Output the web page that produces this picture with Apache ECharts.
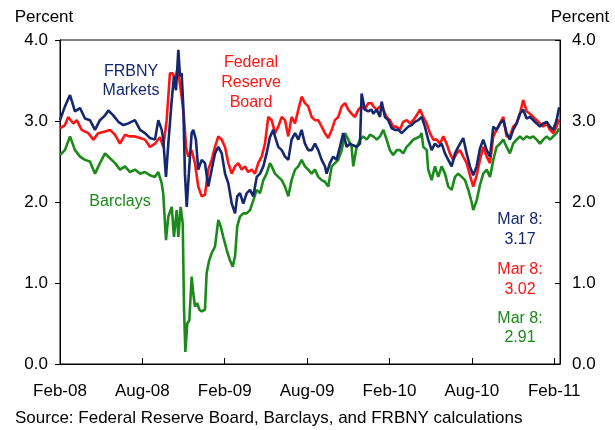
<!DOCTYPE html>
<html><head><meta charset="utf-8">
<script src="https://cdn.jsdelivr.net/npm/echarts@6/dist/echarts.min.js"></script>
<style>html,body{margin:0;padding:0;background:#fff}#c{width:615px;height:430px}</style>
</head><body><div id="c"></div>
<script>
// x values: months since Feb-2008
const tickLabels = ['Feb-08','Aug-08','Feb-09','Aug-09','Feb-10','Aug-10','Feb-11'];
const yTicks = [0, 1, 2, 3, 4];

const frbny = [[0,3.01],[0.36,3.18],[0.73,3.32],[1.09,3.12],[1.46,3.16],[1.82,3.03],[2.18,3.01],[2.55,2.89],[2.91,3.01],[3.28,3.07],[3.52,3.13],[3.88,3.07],[4.25,2.99],[4.61,2.95],[4.97,2.97],[5.46,3.01],[5.83,2.89],[6.19,2.85],[6.55,2.79],[6.92,2.77],[7.16,3.01],[7.41,2.89],[7.52,2.77],[7.72,2.31],[7.89,2.72],[8.14,3.26],[8.30,3.55],[8.45,3.38],[8.62,3.88],[8.74,3.55],[8.86,3.59],[8.98,3.18],[9.10,2.35],[9.23,1.94],[9.42,2.44],[9.59,2.85],[9.71,2.89],[9.90,2.77],[10.07,2.40],[10.32,2.52],[10.56,2.48],[10.80,2.19],[11.05,2.40],[11.29,2.60],[11.53,2.68],[11.78,2.60],[12.02,2.35],[12.26,2.23],[12.51,1.98],[12.75,1.86],[12.91,2.07],[13.11,2.11],[13.35,1.98],[13.60,2.11],[13.84,2.15],[14.08,2.07],[14.33,2.31],[14.57,2.35],[14.81,2.44],[15.05,2.60],[15.29,2.80],[15.53,2.89],[15.66,2.81],[15.90,2.68],[16.15,2.64],[16.39,2.56],[16.63,2.52],[16.87,2.77],[17.12,2.85],[17.36,2.77],[17.60,2.89],[17.84,2.72],[18.08,2.64],[18.33,2.64],[18.57,2.72],[18.81,2.64],[19.06,2.52],[19.30,2.44],[19.42,2.35],[19.66,2.48],[19.90,2.56],[20.15,2.52],[20.39,2.68],[20.63,2.85],[20.88,2.68],[21.12,2.72],[21.36,2.70],[21.61,2.68],[21.85,2.72],[21.97,3.34],[22.21,3.14],[22.45,3.12],[22.70,3.14],[22.82,3.09],[23.07,3.14],[23.31,3.05],[23.43,3.24],[23.67,3.05],[23.91,3.01],[24.16,2.91],[24.40,2.89],[24.64,2.89],[24.89,2.85],[25.13,2.89],[25.37,2.93],[25.61,2.95],[25.85,2.99],[26.10,3.01],[26.34,3.05],[26.58,2.93],[26.82,2.77],[27.07,2.64],[27.31,2.72],[27.55,2.68],[27.80,2.72],[28.04,2.60],[28.28,2.52],[28.53,2.44],[28.77,2.60],[29.01,2.68],[29.37,2.79],[29.62,2.60],[29.86,2.44],[30.10,2.33],[30.35,2.44],[30.59,2.66],[30.83,2.77],[31.08,2.64],[31.32,2.56],[31.56,2.93],[31.80,2.89],[32.05,2.97],[32.29,3.01],[32.53,2.85],[32.77,2.77],[33.01,2.89],[33.26,2.97],[33.50,3.09],[33.74,3.14],[33.99,3.03],[34.23,3.05],[34.47,3.01],[34.72,2.97],[34.96,2.93],[35.20,2.97],[35.45,2.99],[35.69,2.93],[35.93,2.89],[36.17,3.01],[36.36,3.17]];

const frb = [[0,2.91],[0.36,2.95],[0.60,3.05],[0.97,2.97],[1.22,3.01],[1.58,2.89],[2.06,2.85],[2.43,2.77],[2.79,2.85],[3.28,2.87],[3.64,2.89],[4.01,2.83],[4.37,2.72],[4.73,2.83],[5.10,2.81],[5.46,2.81],[5.83,2.79],[6.19,2.77],[6.55,2.68],[6.92,2.72],[7.28,2.80],[7.52,2.68],[7.77,3.01],[8.01,3.59],[8.21,3.59],[8.38,3.51],[8.54,3.63],[8.69,3.51],[8.86,3.30],[9.03,3.05],[9.18,2.68],[9.34,2.56],[9.59,2.64],[9.83,2.48],[10.07,2.19],[10.32,2.07],[10.56,2.09],[10.80,2.40],[11.05,2.52],[11.29,2.68],[11.53,2.81],[11.78,2.77],[12.02,2.68],[12.26,2.48],[12.51,2.35],[12.75,2.44],[12.99,2.48],[13.23,2.40],[13.47,2.44],[13.71,2.37],[13.96,2.40],[14.20,2.35],[14.44,2.48],[14.69,2.56],[14.93,2.72],[15.17,3.05],[15.42,3.01],[15.66,2.85],[15.90,2.93],[16.15,3.05],[16.39,3.01],[16.63,2.81],[16.87,3.05],[17.12,2.97],[17.36,3.14],[17.60,3.30],[17.84,3.22],[18.08,3.18],[18.33,3.05],[18.57,3.01],[18.81,3.01],[19.06,2.93],[19.30,2.85],[19.54,2.79],[19.79,2.89],[20.03,3.01],[20.27,3.05],[20.52,3.18],[20.76,3.22],[21.00,3.14],[21.24,3.09],[21.49,3.05],[21.73,3.14],[21.97,3.18],[22.21,3.14],[22.45,3.22],[22.70,3.22],[22.82,3.18],[23.07,3.14],[23.31,3.18],[23.55,3.14],[23.79,3.05],[24.03,3.01],[24.27,2.93],[24.52,2.93],[24.76,2.89],[25.00,2.99],[25.25,3.01],[25.49,2.97],[25.73,3.01],[25.98,3.07],[26.22,3.14],[26.46,3.05],[26.71,2.97],[26.95,2.85],[27.19,2.77],[27.43,2.77],[27.68,2.72],[27.92,2.81],[28.16,2.72],[28.40,2.60],[28.64,2.52],[28.89,2.60],[29.13,2.64],[29.37,2.56],[29.62,2.48],[29.86,2.33],[30.10,2.19],[30.35,2.33],[30.59,2.52],[30.83,2.68],[31.08,2.56],[31.32,2.48],[31.56,2.81],[31.80,2.89],[32.05,2.97],[32.29,3.05],[32.53,2.81],[32.77,2.81],[33.01,2.93],[33.26,2.97],[33.50,3.09],[33.74,3.26],[33.99,3.12],[34.23,3.09],[34.47,3.05],[34.72,3.01],[34.96,2.97],[35.20,2.93],[35.45,2.97],[35.69,2.89],[35.93,2.85],[36.17,2.93],[36.36,3.02]];

const barclays = [[0,2.58],[0.36,2.64],[0.73,2.81],[1.09,2.64],[1.46,2.56],[1.82,2.52],[2.18,2.50],[2.55,2.35],[2.91,2.48],[3.28,2.60],[3.64,2.54],[4.01,2.48],[4.37,2.40],[4.73,2.44],[5.10,2.37],[5.46,2.40],[5.83,2.35],[6.19,2.37],[6.55,2.33],[6.92,2.31],[7.16,2.37],[7.41,2.23],[7.52,2.10],[7.72,1.53],[7.89,1.82],[8.14,1.94],[8.30,1.57],[8.50,1.90],[8.62,1.57],[8.79,1.94],[8.94,1.74],[9.03,0.71],[9.13,0.15],[9.27,0.50],[9.42,0.54],[9.59,1.08],[9.71,0.87],[9.83,0.71],[10.00,0.75],[10.15,0.67],[10.32,0.65],[10.56,0.67],[10.68,1.12],[10.87,1.28],[11.05,1.37],[11.29,1.45],[11.53,1.78],[11.70,1.70],[11.89,1.57],[12.14,1.41],[12.38,1.28],[12.58,1.20],[12.75,1.33],[12.91,1.70],[13.11,1.82],[13.35,1.86],[13.60,1.86],[13.84,1.90],[14.08,2.02],[14.33,2.15],[14.57,2.11],[14.81,2.27],[15.05,2.35],[15.29,2.48],[15.42,2.44],[15.66,2.35],[15.90,2.31],[16.15,2.27],[16.39,2.19],[16.63,2.07],[16.87,2.27],[17.12,2.40],[17.36,2.44],[17.60,2.52],[17.84,2.44],[18.08,2.40],[18.33,2.35],[18.57,2.40],[18.81,2.31],[19.06,2.27],[19.30,2.25],[19.54,2.19],[19.79,2.44],[20.03,2.48],[20.27,2.52],[20.52,2.64],[20.76,2.85],[21.00,2.77],[21.24,2.68],[21.36,2.44],[21.61,2.68],[21.85,2.77],[22.09,2.81],[22.34,2.77],[22.58,2.83],[22.82,2.81],[23.07,2.77],[23.31,2.81],[23.55,2.89],[23.79,2.77],[24.03,2.64],[24.27,2.58],[24.52,2.64],[24.76,2.64],[25.00,2.60],[25.25,2.68],[25.49,2.72],[25.73,2.77],[25.98,2.79],[26.22,2.81],[26.34,2.85],[26.46,2.68],[26.71,2.64],[26.82,2.40],[27.07,2.27],[27.31,2.44],[27.55,2.31],[27.80,2.44],[28.04,2.35],[28.28,2.19],[28.53,2.15],[28.77,2.31],[29.01,2.35],[29.26,2.31],[29.50,2.27],[29.74,2.15],[29.98,2.00],[30.10,1.90],[30.35,2.02],[30.59,2.21],[30.83,2.35],[31.08,2.40],[31.32,2.31],[31.56,2.52],[31.80,2.68],[32.05,2.72],[32.29,2.77],[32.53,2.68],[32.77,2.60],[33.01,2.72],[33.26,2.77],[33.50,2.81],[33.74,2.77],[33.99,2.81],[34.23,2.79],[34.47,2.81],[34.72,2.77],[34.96,2.72],[35.20,2.77],[35.45,2.81],[35.69,2.77],[35.93,2.81],[36.17,2.85],[36.36,2.91]];

const NAVY = '#14286e', RED = '#ff1414', GREEN = '#1a8a1a';
const FONT = '"Liberation Sans", Arial, sans-serif';

const chart = echarts.init(document.getElementById('c'), null, {renderer: 'canvas'});

function ctext(t, cx, cy, color, size) {
  return {type: 'text', x: cx, y: cy,
    style: {text: t, fill: color, font: (size || 16) + 'px ' + FONT, align: 'center', verticalAlign: 'middle'}};
}

const yAxisCommon = {
  type: 'value', min: 0, max: 4, interval: 1,
  splitLine: {show: false},
  axisLine: {show: true, lineStyle: {color: '#000', width: 1}},
  axisLabel: {color: '#000', fontSize: 17, fontFamily: FONT, formatter: v => v.toFixed(1), margin: 12}
};

chart.setOption({
  animation: false,
  backgroundColor: '#fff',
  grid: {left: 60, right: 55, top: 40, bottom: 66, show: true, borderColor: '#000', borderWidth: 1, backgroundColor: 'transparent'},
  xAxis: {
    type: 'value', min: 0, max: 36.42, interval: 6,
    splitLine: {show: false},
    axisLine: {show: true, lineStyle: {color: '#000'}},
    axisTick: {show: true, inside: true, length: 6, lineStyle: {color: '#000'}},
    axisLabel: {color: '#000', fontSize: 17, fontFamily: FONT, margin: 19,
      formatter: v => (Math.abs(v % 6) < 1e-6 ? (tickLabels[Math.round(v / 6)] || '') : '')}
  },
  yAxis: [
    Object.assign({}, yAxisCommon, {position: 'left', axisTick: {show: true, inside: false, length: 5, lineStyle: {color: '#000'}}}),
    Object.assign({}, yAxisCommon, {position: 'right', axisTick: {show: true, inside: true, length: 5, lineStyle: {color: '#000'}}})
  ],
  series: [
    {name: 'Barclays', type: 'line', data: barclays, showSymbol: false, lineStyle: {color: GREEN, width: 2.6}, z: 2},
    {name: 'Federal Reserve Board', type: 'line', data: frb, showSymbol: false, lineStyle: {color: RED, width: 2.6}, z: 3},
    {name: 'FRBNY Markets', type: 'line', data: frbny, showSymbol: false, lineStyle: {color: NAVY, width: 2.6}, z: 4}
  ],
  graphic: [
    ctext('Percent', 44, 17, '#000', 17),
    ctext('Percent', 580, 17, '#000', 17),
    ctext('FRBNY', 131, 72, NAVY),
    ctext('Markets', 131, 91, NAVY),
    ctext('Federal', 251, 63, RED),
    ctext('Reserve', 251, 83, RED),
    ctext('Board', 251, 103, RED),
    ctext('Barclays', 120, 202, GREEN),
    ctext('Mar 8:', 520, 220, NAVY),
    ctext('3.17', 520, 240, NAVY),
    ctext('Mar 8:', 520, 270, RED),
    ctext('3.02', 520, 290, RED),
    ctext('Mar 8:', 520, 319, GREEN),
    ctext('2.91', 520, 338, GREEN),
    {type: 'text', x: 15, y: 418, style: {text: 'Source: Federal Reserve Board, Barclays, and FRBNY calculations', fill: '#000', font: '17px ' + FONT, align: 'left', verticalAlign: 'middle'}}
  ]
});
</script></body></html>
